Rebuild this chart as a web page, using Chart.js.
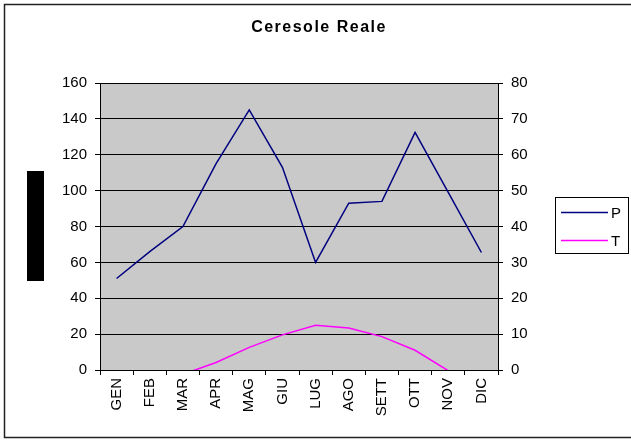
<!DOCTYPE html>
<html>
<head>
<meta charset="utf-8">
<script src="https://cdn.jsdelivr.net/npm/chart.js@4"></script>
<style>
  body { margin: 0; background: #fff; }
  canvas { display: block; }
</style>
</head>
<body>
<canvas id="chart" width="631" height="440"></canvas>
<script>
const title = "Ceresole Reale";
const months = ["GEN", "FEB", "MAR", "APR", "MAG", "GIU", "LUG", "AGO", "SETT", "OTT", "NOV", "DIC"];
const precip = [51, 66, 80, 115, 145, 113, 60, 93, 94, 132.5, 99, 65.5];
const temp = [-4.5, -3.5, -1.2, 2.1, 6.3, 9.8, 12.5, 11.7, 9.3, 5.5, -0.2, -3];
const leftTicks = [0, 160, 20];
const rightTicks = [0, 80, 10];

const font = { family: "'Liberation Sans', Arial, sans-serif", size: 15 };

// white page, outer frame, grey plot area, black block on the left
const frame = {
    id: "frame",
    beforeDraw(chart) {
        const { ctx, chartArea: a } = chart;
        ctx.save();
        ctx.fillStyle = "#fff";
        ctx.fillRect(0, 0, chart.width, chart.height);
        ctx.fillStyle = "#c9c9c9";
        ctx.fillRect(a.left, a.top, a.right - a.left, a.bottom - a.top);
        ctx.strokeStyle = "#222";
        ctx.lineWidth = 1.5;
        ctx.strokeRect(4.5, 4.5, 660, 433);
        ctx.fillStyle = "#000";
        ctx.fillRect(27, 171, 17, 110);
        ctx.restore();
    },
    afterDraw(chart) {
        const { ctx } = chart;
        ctx.save();
        // title, a bit spaced out like the original
        ctx.fillStyle = "#000";
        ctx.font = "bold 16px " + font.family;
        ctx.letterSpacing = "1.5px";
        ctx.textAlign = "center";
        ctx.textBaseline = "middle";
        ctx.fillText(title, 319, 28);
        ctx.letterSpacing = "0px";

        // legend
        ctx.textAlign = "left";
        ctx.strokeStyle = "#000";
        ctx.lineWidth = 1;
        ctx.strokeRect(555.5, 197.5, 73, 56);
        ctx.font = "15px " + font.family;
        chart.data.datasets.forEach((ds, i) => {
            const y = 212.5 + i * 28;
            ctx.strokeStyle = ds.borderColor;
            ctx.lineWidth = 1.5;
            ctx.beginPath();
            ctx.moveTo(561, y);
            ctx.lineTo(608, y);
            ctx.stroke();
            ctx.fillText(ds.label, 611, y + 1);
        });
        ctx.restore();
    }
};

new Chart(document.getElementById("chart"), {
    type: "line",
    data: {
        labels: months,
        datasets: [
            {
                label: "P",
                data: precip,
                borderColor: "#000080",
                borderWidth: 1.5,
                pointRadius: 0,
                yAxisID: "y",
                clip: 0,
            },
            {
                label: "T",
                data: temp,
                borderColor: "#ff00ff",
                borderWidth: 1.5,
                pointRadius: 0,
                yAxisID: "y1",
                clip: 0,
            },
        ],
    },
    options: {
        responsive: false,
        animation: false,
        layout: { padding: { top: 83 } },
        plugins: {
            legend: { display: false },
            tooltip: { enabled: false },
            title: { display: false },
        },
        scales: {
            x: {
                offset: true,
                grid: { offset: true, drawOnChartArea: false, color: "#000", tickLength: 5 },
                border: { color: "#000" },
                ticks: { color: "#000", font, minRotation: 90, maxRotation: 90, padding: 3 },
                afterFit(s) { s.height = 70; },
            },
            y: {
                position: "left",
                min: leftTicks[0],
                max: leftTicks[1],
                ticks: { stepSize: leftTicks[2], color: "#000", font, padding: 8 },
                grid: { color: "#000", tickLength: 5 },
                border: { color: "#000" },
                afterFit(s) { s.width = 100; },
            },
            y1: {
                position: "right",
                min: rightTicks[0],
                max: rightTicks[1],
                ticks: { stepSize: rightTicks[2], color: "#000", font, padding: 8 },
                grid: { drawOnChartArea: false, color: "#000", tickLength: 5 },
                border: { color: "#000" },
                afterFit(s) { s.width = 133; },
            },
        },
    },
    plugins: [frame],
});
</script>
</body>
</html>
